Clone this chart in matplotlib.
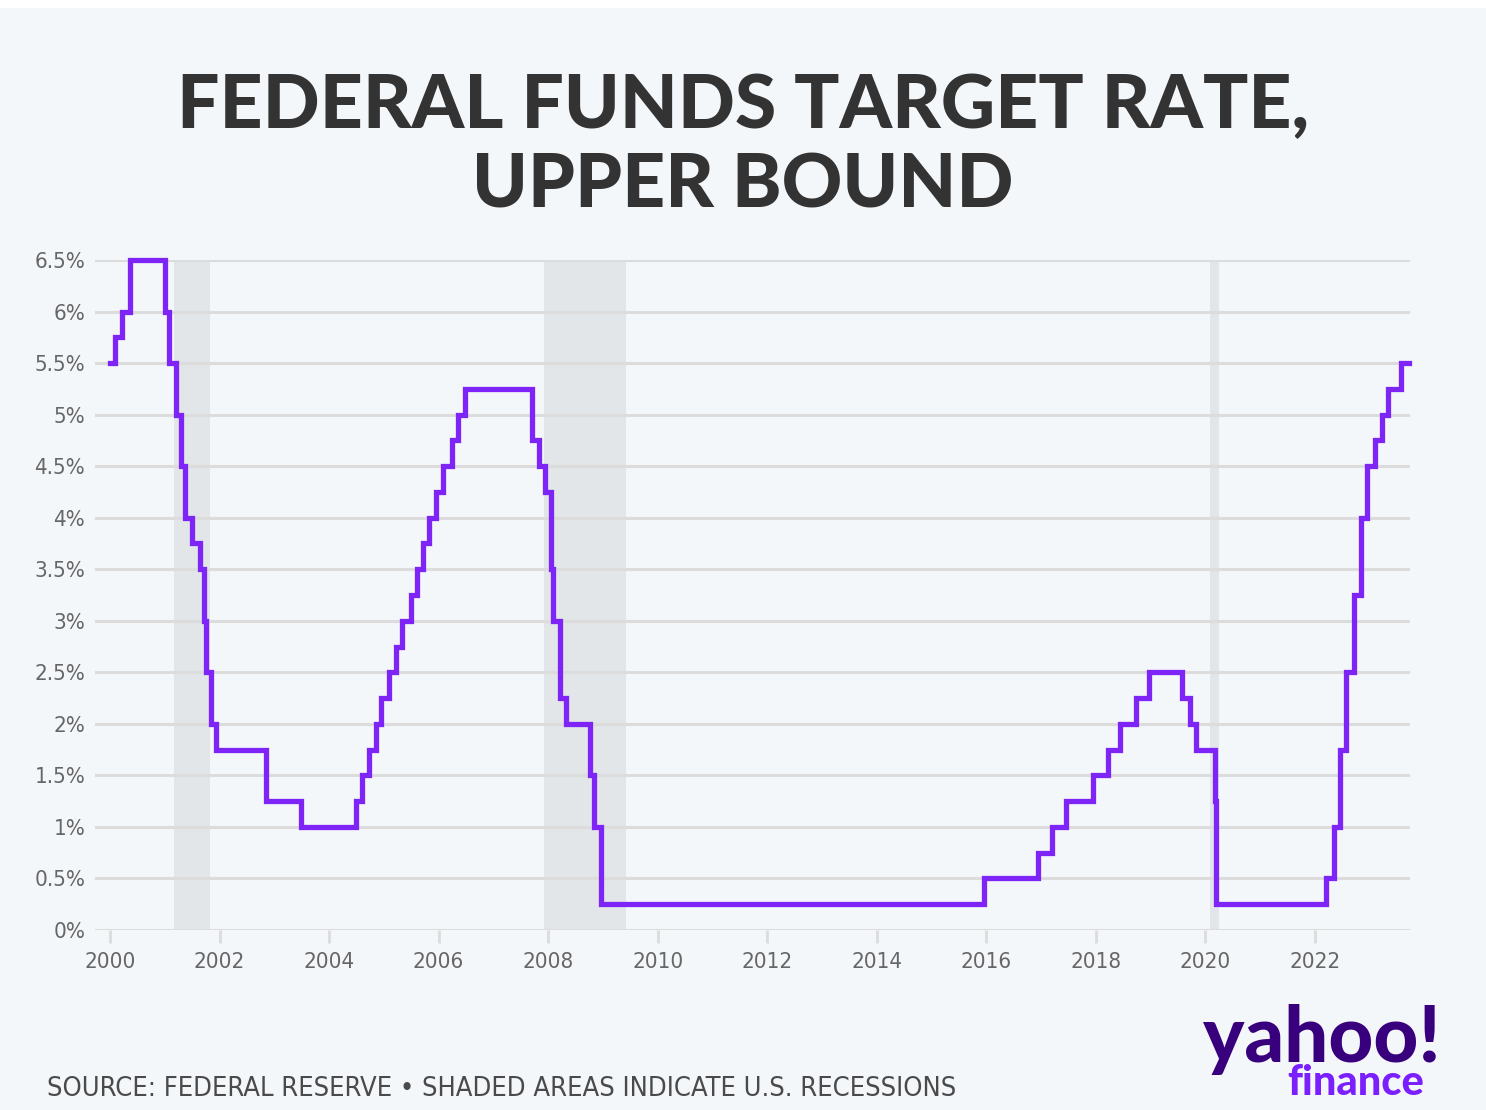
import matplotlib
matplotlib.use('Agg')
import matplotlib.pyplot as plt
from matplotlib.patches import Rectangle

# FOMC decisions: decimal year, upper bound of target rate (%)
dates = [2000.00, 2000.09, 2000.22, 2000.37, 2001.01, 2001.08, 2001.21, 2001.29,
         2001.37, 2001.49, 2001.64, 2001.71, 2001.75, 2001.85, 2001.94, 2002.85,
         2003.48, 2004.49, 2004.61, 2004.72, 2004.86, 2004.95, 2005.09, 2005.22,
         2005.34, 2005.49, 2005.60, 2005.72, 2005.83, 2005.95, 2006.08, 2006.24,
         2006.36, 2006.49, 2007.71, 2007.83, 2007.94, 2008.06, 2008.08, 2008.21,
         2008.33, 2008.77, 2008.83, 2008.96, 2015.96, 2016.95, 2017.20, 2017.45,
         2017.95, 2018.22, 2018.45, 2018.74, 2018.97, 2019.58, 2019.71, 2019.83,
         2020.17, 2020.20, 2022.21, 2022.34, 2022.46, 2022.57, 2022.72, 2022.84,
         2022.95, 2023.09, 2023.22, 2023.34, 2023.57, 2023.72]
rates = [5.50, 5.75, 6.00, 6.50, 6.00, 5.50, 5.00, 4.50,
         4.00, 3.75, 3.50, 3.00, 2.50, 2.00, 1.75, 1.25,
         1.00, 1.25, 1.50, 1.75, 2.00, 2.25, 2.50, 2.75,
         3.00, 3.25, 3.50, 3.75, 4.00, 4.25, 4.50, 4.75,
         5.00, 5.25, 4.75, 4.50, 4.25, 3.50, 3.00, 2.25,
         2.00, 1.50, 1.00, 0.25, 0.50, 0.75, 1.00, 1.25,
         1.50, 1.75, 2.00, 2.25, 2.50, 2.25, 2.00, 1.75,
         1.25, 0.25, 0.50, 1.00, 1.75, 2.50, 3.25, 4.00,
         4.50, 4.75, 5.00, 5.25, 5.50, 5.50]

recessions = [(2001.17, 2001.83), (2007.92, 2009.42), (2020.08, 2020.25)]

yticks = [0, 0.5, 1, 1.5, 2, 2.5, 3, 3.5, 4, 4.5, 5, 5.5, 6, 6.5]
ytick_labels = ['0%', '0.5%', '1%', '1.5%', '2%', '2.5%', '3%', '3.5%',
                '4%', '4.5%', '5%', '5.5%', '6%', '6.5%']
xticks = list(range(2000, 2023, 2))

bg = '#F4F7FA'
W, H = 1486, 1110
fig = plt.figure(figsize=(W / 100, H / 100), dpi=100, facecolor=bg)
# white strip along the top edge
fig.patches.append(Rectangle((0, 1 - 8 / H), 1, 8 / H, transform=fig.transFigure,
                             facecolor='white', edgecolor='none'))

ax = fig.add_axes([95 / W, (H - 930) / H, (1410 - 95) / W, (930 - 260) / H])
ax.set_facecolor(bg)

for a, b in recessions:
    ax.axvspan(a, b, color='#E3E6E9', zorder=1, lw=0)

for y in yticks:
    ax.axhline(y, color='#DCDCDC', lw=2.2, zorder=2)

ax.plot(dates, rates, drawstyle='steps-post', color='#7F24F6', lw=3.8,
        zorder=3, clip_on=False, solid_joinstyle='miter')

ax.set_xlim(1999.726, 2023.736)
ax.set_ylim(0, 6.5)
for s in ax.spines.values():
    s.set_visible(False)

ax.set_yticks(yticks)
ax.set_yticklabels(ytick_labels, family='DejaVu Sans', stretch='condensed',
                   fontsize=16, color='#666666')
ax.tick_params(axis='y', length=0, pad=7)
ax.set_xticks(xticks)
ax.set_xticklabels([str(x) for x in xticks], family='DejaVu Sans',
                   stretch='condensed', fontsize=16, color='#666666')
ax.tick_params(axis='x', length=9, width=2, color='#DCDCDC', pad=7)

fig.text(743 / W, 1 - 128 / H, 'FEDERAL FUNDS TARGET RATE,', ha='center',
         va='baseline', fontsize=54, fontweight='black', color='#333333',
         family=['Lato', 'DejaVu Sans'])
fig.text(743 / W, 1 - 207 / H, 'UPPER BOUND', ha='center', va='baseline',
         fontsize=54, fontweight='black', color='#333333',
         family=['Lato', 'DejaVu Sans'])

fig.text(47 / W, 1 - 1096 / H,
         'SOURCE: FEDERAL RESERVE \u2022 SHADED AREAS INDICATE U.S. RECESSIONS',
         ha='left', va='baseline', fontsize=19.5, color='#4A4A4A',
         family='DejaVu Sans', stretch='condensed')

# yahoo finance wordmark
fig.text(1322 / W, 1 - 1062 / H, 'yahoo!', ha='center', va='baseline', fontsize=56,
         fontweight='black', color='#39007E', family=['Lato', 'DejaVu Sans'])
fig.text(1356 / W, 1 - 1095 / H, 'finance', ha='center', va='baseline', fontsize=30,
         fontweight='black', color='#7B1FFF', family=['Lato', 'DejaVu Sans'])

fig.savefig('out.png', dpi=100, facecolor=bg)
